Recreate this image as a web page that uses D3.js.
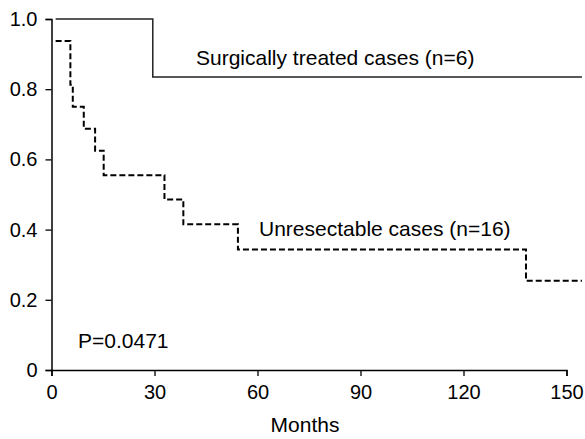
<!DOCTYPE html>
<html>
<head>
<meta charset="utf-8">
<script src="https://cdn.jsdelivr.net/npm/d3@7"></script>
<style>
  body { margin: 0; background: #fff; }
  text { font-family: "Liberation Sans", Arial, sans-serif; fill: #000; }
</style>
</head>
<body>
<div id="chart"></div>
<script>
// survival steps: [months, survival]
var surgical = [[1.2, 1.0], [29.5, 0.835], [154.5, 0.835]];
var unresectable = [[1.2, 0.9375], [5.5, 0.8125], [6.2, 0.75], [9.4, 0.6875], [12.7, 0.625],
  [15.2, 0.555], [32.9, 0.486], [38.4, 0.415], [54.3, 0.343], [138.2, 0.254], [154.5, 0.254]];
var xTicks = [0, 30, 60, 90, 120, 150];
var yTicks = [0, 0.2, 0.4, 0.6, 0.8, 1.0];

var width = 585, height = 439;
var plot = {left: 51.5, right: 566.5, top: 19, bottom: 370};

var svg = d3.select("#chart").append("svg")
  .attr("width", width)
  .attr("height", height);

var x = d3.scaleLinear().domain([0, 150]).range([plot.left, plot.right]);
var y = d3.scaleLinear().domain([0, 1]).range([plot.bottom, plot.top]);

var xAxis = svg.append("g")
  .attr("transform", "translate(0," + plot.bottom + ")")
  .call(d3.axisBottom(x).tickValues(xTicks).tickSize(6).tickPadding(4).tickFormat(d3.format("d")));

var yAxis = svg.append("g")
  .attr("transform", "translate(" + plot.left + ",0)")
  .call(d3.axisLeft(y).tickValues(yTicks).tickSize(6).tickPadding(8)
    .tickFormat(function (d) { return d === 0 ? "0" : d3.format(".1f")(d); }));

[xAxis, yAxis].forEach(function (g) {
  g.select(".domain").attr("stroke", "#000").attr("stroke-width", 1.5);
  g.selectAll(".tick line").attr("stroke", "#000").attr("stroke-width", 1.3);
  g.selectAll(".tick text").style("font-size", "20px").attr("fill", "#000");
});
xAxis.selectAll(".tick text").attr("dy", "0.95em");

var step = d3.line()
  .x(function (d) { return x(d[0]); })
  .y(function (d) { return y(d[1]); })
  .curve(d3.curveStepAfter);

svg.append("path")
  .datum(surgical)
  .attr("d", step)
  .attr("fill", "none")
  .attr("stroke", "#222")
  .attr("stroke-width", 1.5);

svg.append("path")
  .datum(unresectable)
  .attr("d", step)
  .attr("fill", "none")
  .attr("stroke", "#000")
  .attr("stroke-width", 2)
  .attr("stroke-dasharray", "6,3");

svg.append("text").attr("x", 196).attr("y", 65)
  .style("font-size", "21px").text("Surgically treated cases (n=6)");
svg.append("text").attr("x", 259).attr("y", 236)
  .style("font-size", "21px").text("Unresectable cases (n=16)");
svg.append("text").attr("x", 78).attr("y", 348)
  .style("font-size", "21px").text("P=0.0471");
svg.append("text").attr("x", 305).attr("y", 432)
  .attr("text-anchor", "middle")
  .style("font-size", "21px").text("Months");
</script>
</body>
</html>
